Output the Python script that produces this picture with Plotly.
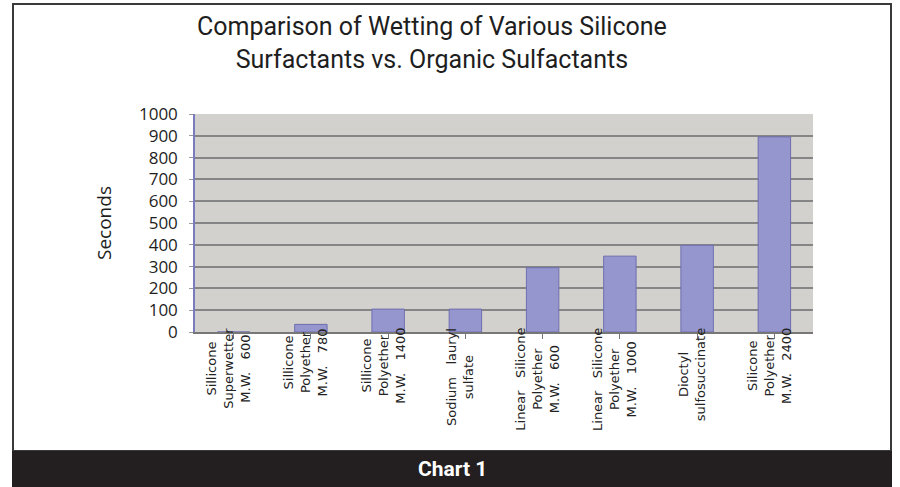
import plotly.graph_objects as go

categories = [
    "Sillicone<br>Superwetter<br>M.W.   600",
    "Sillicone<br>Polyether<br>M.W.   780",
    "Sillicone<br>Polyether<br>M.W.   1400",
    "Sodium   lauryl<br>sulfate",
    "Linear   Silicone<br>Polyether<br>M.W.   600",
    "Linear   Silicone<br>Polyether<br>M.W.   1000",
    "Dioctyl<br>sulfosuccinate",
    "Silicone<br>Polyether<br>M.W.   2400",
]
seconds = [0, 35, 105, 105, 295, 348, 398, 895]
y_ticks = [0, 100, 200, 300, 400, 500, 600, 700, 800, 900, 1000]

title_text = "Comparison of Wetting of Various Silicone<br>Surfactants vs. Organic Sulfactants"
caption_text = "Chart 1"

W, H = 900, 487
L, R, T, B = 195, 87, 114, 155
pw, ph = W - L - R, H - T - B


def px(x):
    return (x - L) / pw


def py(y):
    return (H - B - y) / ph


fig = go.Figure()
fig.add_trace(go.Bar(
    x=list(range(len(categories))), y=seconds,
    marker=dict(color="#9696cf", line=dict(color="#6e6eb0", width=1)),
    width=0.42,
))

# category labels as rotated, centre-aligned annotations
for i, c in enumerate(categories):
    fig.add_annotation(
        x=i - 0.07, xref="x", y=py(326), yref="paper",
        text=c, textangle=-90, showarrow=False, align="center",
        xanchor="center", yanchor="top",
        font=dict(family="DejaVu Sans", size=13, color="#222"),
    )

fig.add_annotation(
    x=px(432), xref="paper", y=py(43), yref="paper",
    text=title_text, showarrow=False, align="center",
    xanchor="center", yanchor="middle",
    font=dict(family="Roboto, sans-serif", size=25, color="#1e1e1e"),
)
fig.add_annotation(
    x=px(104), xref="paper", y=py(223), yref="paper",
    text="Seconds", textangle=-90, showarrow=False,
    xanchor="center", yanchor="middle",
    font=dict(family="Open Sans, sans-serif", size=19, color="#1e1e1e"),
)
fig.add_annotation(
    x=px(452), xref="paper", y=py(469), yref="paper",
    text="<b>" + caption_text + "</b>", showarrow=False,
    xanchor="center", yanchor="middle",
    font=dict(family="Roboto, sans-serif", size=21, color="#ffffff"),
)

# outer frame and caption band
fig.add_shape(type="rect", xref="paper", yref="paper",
              x0=px(13), x1=px(891), y0=py(451), y1=py(4),
              line=dict(color="#3a3a3a", width=2), fillcolor="rgba(0,0,0,0)", layer="below")
fig.add_shape(type="rect", xref="paper", yref="paper",
              x0=px(12), x1=px(892), y0=py(487), y1=py(451),
              line=dict(width=0), fillcolor="#231f20", layer="above")

fig.update_layout(
    width=W, height=H,
    margin=dict(l=L, r=R, t=T, b=B),
    paper_bgcolor="white", plot_bgcolor="#d3d1cd",
    showlegend=False, bargap=0.58,
    xaxis=dict(
        range=[-0.5, len(categories) - 0.5],
        tickvals=list(range(len(categories))), ticktext=[""] * len(categories),
        showgrid=False, zeroline=False,
        showline=True, linecolor="#777", linewidth=1.5,
        ticks="outside", tickson="boundaries", ticklen=5, tickcolor="#777",
    ),
    yaxis=dict(
        range=[0, 1000], tickvals=y_ticks,
        showgrid=True, gridcolor="#858585", gridwidth=1.5,
        zeroline=False, showline=True, linecolor="#7a7ac0", linewidth=1.5,
        ticks="outside", ticklen=4, tickcolor="#999", ticklabelstandoff=8,
        tickfont=dict(family="Open Sans, sans-serif", size=17, color="#1e1e1e"),
    ),
)

fig.write_html("out.html")
